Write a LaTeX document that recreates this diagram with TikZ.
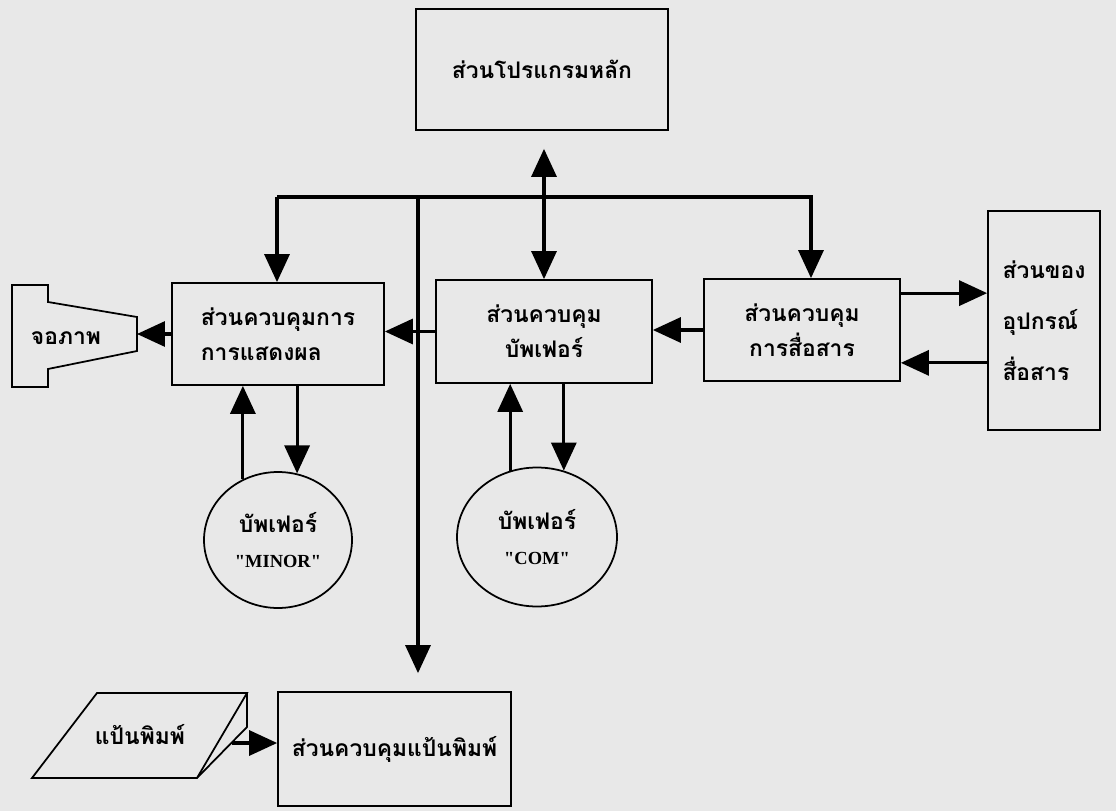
\documentclass[tikz,border=0pt]{standalone}
\usepackage{fontspec}
\setmainfont{Liberation Serif}
\newfontfamily\thaifont[Script=Thai]{Loma}
\usepackage{tikz}
\usetikzlibrary{shapes,arrows,arrows.meta}
\usetikzlibrary{calc}
\usetikzlibrary{positioning}
\definecolor{paper}{gray}{0.91}
\tikzstyle{block} = [draw, rectangle, line width=1pt, align=center,
    font=\thaifont\bfseries\fontsize{13}{20}\selectfont]
\tikzstyle{buffer} = [draw, ellipse, line width=1pt, align=center,
    font=\thaifont\bfseries\fontsize{13}{20}\selectfont]
\tikzstyle{label} = [font=\thaifont\bfseries\fontsize{13}{20}\selectfont]
\tikzstyle{bus} = [line width=1.8pt]
\tikzstyle{outline} = [line width=1pt]

\begin{document}
\begin{tikzpicture}[x=0.02cm, y=-0.02cm, >={Triangle[length=0.56cm,width=0.5cm]}]
    \fill [paper] (0,0) rectangle (1116,811);
    \useasboundingbox (0,0) rectangle (1116,811);

    % the blocks
    \node [block, minimum width=5.04cm, minimum height=2.42cm] (main) at (542,69.5) {ส่วนโปรแกรมหลัก};
    \node [block, align=left, minimum width=4.24cm, minimum height=2.04cm] (disp) at (278,334) {ส่วนควบคุมการ\\การแสดงผล};
    \node [block, minimum width=4.32cm, minimum height=2.06cm] (buf) at (544,331.5) {ส่วนควบคุม\\บัพเฟอร์};
    \node [block, minimum width=3.92cm, minimum height=2.04cm] (comm) at (802,330) {ส่วนควบคุม\\การสื่อสาร};
    \node [block, align=left, minimum width=2.24cm, minimum height=4.38cm,
        font=\thaifont\bfseries\fontsize{13}{29}\selectfont] (dev) at (1044,320.5) {ส่วนของ\\อุปกรณ์\\สื่อสาร};
    \node [block, minimum width=4.66cm, minimum height=2.28cm] (kbctrl) at (394.5,749) {ส่วนควบคุมแป้นพิมพ์};

    % buffers
    \node [buffer, minimum width=2.96cm, minimum height=2.72cm] (minor) at (278,540)
        {บัพเฟอร์\\{\rmfamily\bfseries\fontsize{10.5}{12}\selectfont \textquotedbl MINOR\textquotedbl}};
    \node [buffer, minimum width=3.2cm, minimum height=2.78cm] (com) at (537,537)
        {บัพเฟอร์\\{\rmfamily\bfseries\fontsize{10.5}{12}\selectfont \textquotedbl COM\textquotedbl}};

    % screen and keyboard
    \draw [outline] (12,285) -- (48,285) -- (48,302) -- (137,317) -- (137,351)
        -- (48,369) -- (48,387) -- (12,387) -- cycle;
    \node [label] (scr) at (66,338) {จอภาพ};
    \coordinate (scrface) at (137,334);
    \draw [outline] (32,778) -- (97,693) -- (247,693) -- (197,778) -- cycle;
    \draw [outline] (247,693) -- (247,727) -- (197,778);
    \node [label] (kb) at (140,735) {แป้นพิมพ์};
    \coordinate (kbside) at (232,743);

    % the bus
    \coordinate (busL) at (277,197);
    \coordinate (busR) at (811,197);
    \coordinate (busK) at (418,197);
    \draw [bus,->] (busL) -- (busR) -- (busR |- comm.north);
    \draw [bus,->] (busL) -- (busL |- disp.north);
    \draw [bus,->] (busK) -- ($(busK |- kbctrl.north)+(0,-18)$);
    \draw [bus,<->] ($(buf.north |- main.south)+(0,18)$) -- (buf.north);

    % side links
    \draw [bus,->] (buf.west) -- (buf.west -| disp.east);
    \draw [bus,->] (comm.west) -- (comm.west -| buf.east);
    \draw [bus,->] (disp.west) -- (disp.west -| scrface);
    \coordinate (tx) at ($(comm.north east)+(0,15)$);
    \coordinate (rx) at ($(comm.south east)+(0,-19)$);
    \draw [bus,->] (tx) -- (tx -| dev.west);
    \draw [bus,<-] (rx) -- (rx -| dev.west);
    \draw [bus,->] (kbside) -- (kbside -| kbctrl.west);

    % buffer links
    \draw [bus,->] (minor.120) -- (minor.120 |- disp.south);
    \draw [bus,->] (minor.74 |- disp.south) -- (minor.74);
    \draw [bus,->] (com.112) -- (com.112 |- buf.south);
    \draw [bus,->] (com.68 |- buf.south) -- (com.68);
\end{tikzpicture}
\end{document}
